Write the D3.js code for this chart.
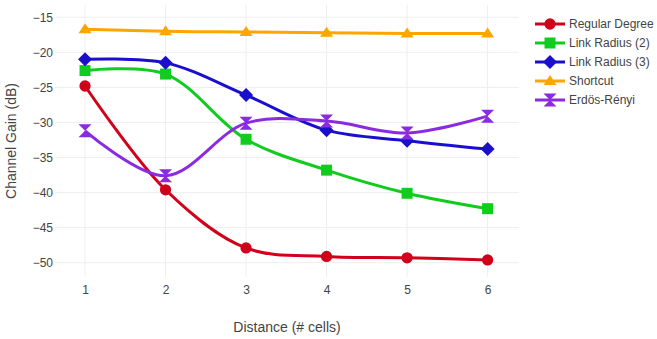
<!DOCTYPE html>
<html>
<head>
<meta charset="utf-8">
<script src="https://cdn.jsdelivr.net/npm/d3@7"></script>
<style>
  body { margin: 0; background: #fff; }
  svg { font-family: "Liberation Sans", Arial, sans-serif; }
  .tick text { fill: #444; font-size: 12px; font-family: "Liberation Sans", Arial, sans-serif; }
</style>
</head>
<body>
<div id="chart"></div>
<script>
// data
const distances = [1, 2, 3, 4, 5, 6];
const regularDegree = [-24.8, -39.6, -47.9, -49.1, -49.3, -49.6];
const linkRadius2 = [-22.6, -23.1, -32.4, -36.8, -40.1, -42.3];
const linkRadius3 = [-21.0, -21.5, -26.1, -31.1, -32.6, -33.8];
const shortcut = [-16.7, -17.0, -17.1, -17.2, -17.3, -17.3];
const erdosRenyi = [-31.2, -37.6, -30.1, -29.8, -31.5, -29.1];
const yTicks = [-15, -20, -25, -30, -35, -40, -45, -50];

const series = [
  { name: "Regular Degree", values: regularDegree, color: "#d0021b", symbol: "circle" },
  { name: "Link Radius (2)", values: linkRadius2, color: "#11cc1e", symbol: "square" },
  { name: "Link Radius (3)", values: linkRadius3, color: "#1a0fcc", symbol: "diamond" },
  { name: "Shortcut", values: shortcut, color: "#ffa500", symbol: "triangle" },
  { name: "Erdös-Rényi", values: erdosRenyi, color: "#8a2be2", symbol: "hourglass" }
];

const W = 657, H = 339;
const plot = { left: 55, right: 519, top: 5, bottom: 277 };

const svg = d3.select("#chart").append("svg")
  .attr("width", W).attr("height", H);

const x = d3.scaleLinear().domain([0.627, 6.39]).range([plot.left, plot.right]);
const y = d3.scaleLinear().domain([-52.04, -13.25]).range([plot.bottom, plot.top]);

// grid
svg.append("g")
  .selectAll("line.v")
  .data(distances)
  .join("line")
  .attr("x1", d => x(d)).attr("x2", d => x(d))
  .attr("y1", plot.top).attr("y2", plot.bottom)
  .attr("stroke", "#eee").attr("stroke-width", 1);

svg.append("g")
  .selectAll("line.h")
  .data(yTicks)
  .join("line")
  .attr("x1", plot.left).attr("x2", plot.right)
  .attr("y1", d => y(d)).attr("y2", d => y(d))
  .attr("stroke", "#eee").attr("stroke-width", 1);

// axes (labels only)
const xAxis = svg.append("g")
  .attr("transform", "translate(0," + (plot.bottom + 3) + ")")
  .call(d3.axisBottom(x).tickValues(distances).tickSize(0).tickPadding(5)
    .tickFormat(d3.format("d")));
xAxis.select(".domain").remove();

const yAxis = svg.append("g")
  .attr("transform", "translate(" + (plot.left - 2) + ",0)")
  .call(d3.axisLeft(y).tickValues(yTicks).tickSize(0).tickPadding(0)
    .tickFormat(d => "\u2212" + Math.abs(d)));
yAxis.select(".domain").remove();
yAxis.selectAll("text").attr("dy", "0.35em");

// axis titles
svg.append("text")
  .attr("x", (plot.left + plot.right) / 2)
  .attr("y", 332)
  .attr("text-anchor", "middle")
  .attr("fill", "#444")
  .attr("font-size", 14)
  .text("Distance (# cells)");

svg.append("text")
  .attr("transform", "translate(16," + (plot.top + plot.bottom) / 2 + ") rotate(-90)")
  .attr("text-anchor", "middle")
  .attr("fill", "#444")
  .attr("font-size", 14)
  .text("Channel Gain (dB)");

// marker shapes
function markerPath(symbol) {
  switch (symbol) {
    case "circle": return d3.symbol(d3.symbolCircle, 100)();
    case "square": return "M-5.5,-5.5H5.5V5.5H-5.5Z";
    case "diamond": return "M0,-7L7,0L0,7L-7,0Z";
    case "triangle": return "M-6.5,4L0,-6L6.5,4Z";
    case "hourglass": return "M-6.5,-6.5H6.5L-6.5,6.5H6.5Z";
  }
}

const line = d3.line()
  .x((d, i) => x(distances[i]))
  .y(d => y(d))
  .curve(d3.curveCatmullRom.alpha(0.5));

const groups = svg.append("g")
  .selectAll("g.series")
  .data(series)
  .join("g")
  .attr("class", "series");

groups.append("path")
  .attr("d", d => line(d.values))
  .attr("fill", "none")
  .attr("stroke", d => d.color)
  .attr("stroke-width", 3);

groups.each(function (s) {
  d3.select(this).selectAll("path.pt")
    .data(s.values)
    .join("path")
    .attr("class", "pt")
    .attr("transform", (d, i) => "translate(" + x(distances[i]) + "," + y(d) + ")")
    .attr("d", markerPath(s.symbol))
    .attr("fill", s.color);
});

// legend
const legend = svg.append("g").attr("transform", "translate(535,24)");
const items = legend.selectAll("g")
  .data(series)
  .join("g")
  .attr("transform", (d, i) => "translate(0," + i * 19 + ")");

items.append("line")
  .attr("x1", 0).attr("x2", 30)
  .attr("stroke", d => d.color)
  .attr("stroke-width", 3);

items.append("path")
  .attr("transform", "translate(15,0)")
  .attr("d", d => markerPath(d.symbol))
  .attr("fill", d => d.color);

items.append("text")
  .attr("x", 34)
  .attr("dy", "0.35em")
  .attr("fill", "#444")
  .attr("font-size", 12)
  .text(d => d.name);
</script>
</body>
</html>
